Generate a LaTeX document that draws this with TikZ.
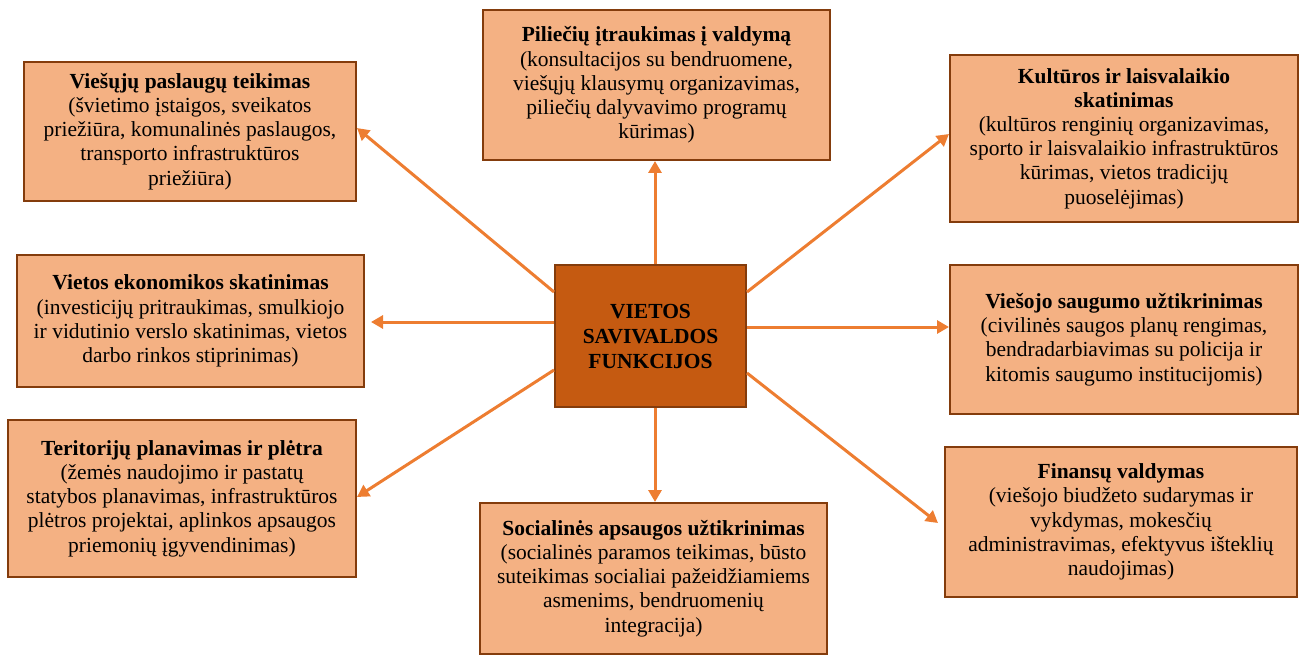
\documentclass[tikz,border=0pt]{standalone}
\usepackage{fontspec}
\setmainfont{Liberation Serif}
\usetikzlibrary{arrows.meta}
\definecolor{boxfill}{HTML}{F4B183}
\definecolor{boxline}{HTML}{843C0C}
\definecolor{corefill}{HTML}{C55A11}
\definecolor{arrcol}{HTML}{ED7D31}
\tikzset{
  fbox/.style={draw=boxline, line width=2pt, fill=boxfill, rectangle, align=center,
    inner sep=0pt, font=\fontsize{21.5}{24.2}\selectfont, text=black},
  corebox/.style={fbox, fill=corefill, font=\fontsize{21.5}{25}\selectfont\bfseries},
  arr/.style={draw=arrcol, line width=3pt, -{Triangle[length=12pt,width=13pt]}}
}
\begin{document}
\begin{tikzpicture}[x=1pt,y=-1pt]
\useasboundingbox (0,0) rectangle (1300,655);
\node[fbox, minimum width=332pt, minimum height=139pt] (vp) at (190,131.5)
  {\textbf{Viešųjų paslaugų teikimas}\\(švietimo įstaigos, sveikatos\\priežiūra, komunalinės paslaugos,\\transporto infrastruktūros\\priežiūra)};
\node[fbox, minimum width=347pt, minimum height=150pt] (pi) at (656.5,85)
  {\textbf{Piliečių įtraukimas į valdymą}\\(konsultacijos su bendruomene,\\viešųjų klausymų organizavimas,\\piliečių dalyvavimo programų\\kūrimas)};
\node[fbox, minimum width=348pt, minimum height=167pt] (ku) at (1124,138.5)
  {\textbf{Kultūros ir laisvalaikio}\\\textbf{skatinimas}\\(kultūros renginių organizavimas,\\sporto ir laisvalaikio infrastruktūros\\kūrimas, vietos tradicijų\\puoselėjimas)};
\node[fbox, minimum width=347pt, minimum height=132pt] (ek) at (190.5,321)
  {\textbf{Vietos ekonomikos skatinimas}\\(investicijų pritraukimas, smulkiojo\\ir vidutinio verslo skatinimas, vietos\\darbo rinkos stiprinimas)};
\node[corebox, minimum width=191pt, minimum height=142pt] (c) at (650.5,336)
  {VIETOS\\SAVIVALDOS\\FUNKCIJOS};
\node[fbox, minimum width=348pt, minimum height=149pt] (sa) at (1124,339.5)
  {\textbf{Viešojo saugumo užtikrinimas}\\(civilinės saugos planų rengimas,\\bendradarbiavimas su policija ir\\kitomis saugumo institucijomis)};
\node[fbox, minimum width=348pt, minimum height=157pt] (te) at (182,498.5)
  {\textbf{Teritorijų planavimas ir plėtra}\\(žemės naudojimo ir pastatų\\statybos planavimas, infrastruktūros\\plėtros projektai, aplinkos apsaugos\\priemonių įgyvendinimas)};
\node[fbox, minimum width=347pt, minimum height=151pt] (so) at (653.5,578.5)
  {\textbf{Socialinės apsaugos užtikrinimas}\\(socialinės paramos teikimas, būsto\\suteikimas socialiai pažeidžiamiems\\asmenims, bendruomenių\\integracija)};
\node[fbox, minimum width=352pt, minimum height=150pt] (fi) at (1121,522)
  {\textbf{Finansų valdymas}\\(viešojo biudžeto sudarymas ir\\vykdymas, mokesčių\\administravimas, efektyvus išteklių\\naudojimas)};
\draw[arr] (c.west |- 0,292) -- (vp.east |- 0,128);
\draw[arr] (c.north -| 655,0) -- (pi.south -| 655,0);
\draw[arr] (c.east |- 0,292) -- (ku.west |- 0,134);
\draw[arr] (c.west |- 0,322) -- ([xshift=6pt]ek.east |- 0,322);
\draw[arr] (c.east |- 0,327) -- (sa.west |- 0,327);
\draw[arr] (c.west |- 0,370) -- (te.east |- 0,497);
\draw[arr] (c.south -| 655,0) -- (so.north -| 655,0);
\draw[arr] (c.east |- 0,373) -- ([xshift=-6pt]fi.west |- 0,523);
\end{tikzpicture}
\end{document}
